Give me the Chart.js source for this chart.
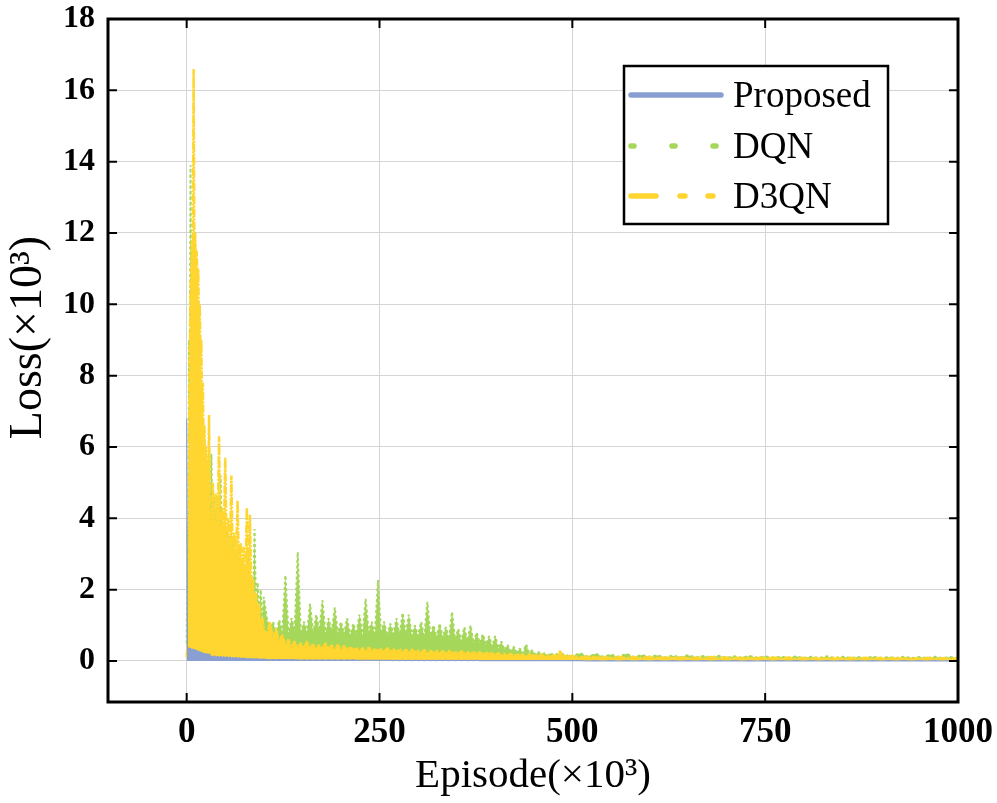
<!DOCTYPE html>
<html>
<head>
<meta charset="utf-8">
<script src="https://cdn.jsdelivr.net/npm/chart.js@4.4.0/dist/chart.umd.min.js"></script>
<style>
  body { margin: 0; background: #fff; }
  canvas { display: block; }
</style>
</head>
<body>
<canvas id="chart" width="997" height="803"></canvas>
<script>
// episode (x10^3) sample points: dense at the start, coarser later
const episodes = [
  0, 1, 2, 3, 4, 5, 6, 7, 8, 9, 10, 11, 12, 13, 14, 15, 16, 17, 18, 19,
  20, 21, 22, 23, 24, 25, 26, 27, 28, 29, 30,
  32, 34, 36, 38, 40, 42, 44, 46, 48, 50, 52, 54, 56, 58, 60, 62, 64, 66, 68, 70,
  72, 74, 76, 78, 80, 82, 84, 86, 88, 90, 92, 94, 96, 98, 100,
  104, 108, 112, 116, 120, 124, 128, 132, 136, 140, 144, 148, 152, 156, 160, 164, 168, 172, 176, 180,
  184, 188, 192, 196, 200, 204, 208, 212, 216, 220, 224, 228, 232, 236, 240, 244, 248, 252, 256, 260,
  264, 268, 272, 276, 280, 284, 288, 292, 296, 300, 304, 308, 312, 316, 320, 324, 328, 332, 336, 340,
  344, 348, 352, 356, 360, 364, 368, 372, 376, 380, 384, 388, 392, 396, 400, 404, 408, 412, 416, 420,
  424, 428, 432, 436, 440, 444, 448, 452, 456, 460, 464, 468, 472, 476, 480, 484, 488, 492, 496, 500,
  510, 520, 530, 540, 550, 560, 570, 580, 590, 600, 610, 620, 630, 640, 650, 660, 670, 680, 690, 700,
  710, 720, 730, 740, 750, 760, 770, 780, 790, 800, 810, 820, 830, 840, 850, 860, 870, 880, 890, 900,
  910, 920, 930, 940, 950, 960, 970, 980, 990, 1000
];

// loss (x10^3), alternating body level and spike tips
const proposed = [
  6.8, 0.4, 0.3, 0.38, 0.28, 0.36, 0.27, 0.34, 0.26, 0.33,
  0.25, 0.32, 0.24, 0.3, 0.22, 0.28, 0.2, 0.27, 0.2, 0.25,
  0.18, 0.24, 0.17, 0.22, 0.16, 0.22, 0.15, 0.2, 0.15, 0.2,
  0.14,
  0.14, 0.1, 0.14, 0.1, 0.13, 0.09, 0.13, 0.09, 0.12, 0.08,
  0.12, 0.08, 0.11, 0.07, 0.1, 0.07, 0.1, 0.06, 0.09, 0.06,
  0.08, 0.06, 0.08, 0.05, 0.07, 0.05, 0.07, 0.05, 0.06, 0.05,
  0.06, 0.04, 0.05, 0.04, 0.05,
  0.04, 0.03, 0.04, 0.03, 0.04, 0.03, 0.04, 0.03, 0.04, 0.03,
  0.03, 0.02, 0.03, 0.02, 0.03, 0.02, 0.03, 0.02, 0.03, 0.02,
  0.03, 0.02, 0.03, 0.02, 0.03, 0.02, 0.03, 0.02, 0.03, 0.02,
  0.02, 0.02, 0.02, 0.02, 0.02, 0.02, 0.02, 0.02, 0.02, 0.02,
  0.02, 0.01, 0.02, 0.01, 0.02, 0.01, 0.02, 0.01, 0.02, 0.01,
  0.02, 0.01, 0.02, 0.01, 0.02, 0.01, 0.02, 0.01, 0.02, 0.01,
  0.02, 0.01, 0.02, 0.01, 0.02, 0.01, 0.02, 0.01, 0.02, 0.01,
  0.01, 0.01, 0.01, 0.01, 0.01, 0.01, 0.01, 0.01, 0.01, 0.01,
  0.01, 0.01, 0.01, 0.01, 0.01, 0.01, 0.01, 0.01, 0.01, 0.01,
  0.01, 0.01, 0.01, 0.01, 0.01, 0.01, 0.01, 0.01, 0.01, 0.01,
  0.01, 0, 0.01, 0, 0.01, 0, 0.01, 0, 0.01, 0,
  0.01, 0, 0.01, 0, 0.01, 0, 0.01, 0, 0.01, 0,
  0.01, 0, 0.01, 0, 0.01, 0, 0.01, 0, 0.01, 0,
  0.01, 0, 0.01, 0, 0.01, 0, 0.01, 0, 0.01, 0,
  0.01, 0, 0.01, 0, 0.01, 0, 0.01, 0, 0.01, 0
];

const dqn = [
  0.5, 3.8, 0.6, 9.0, 7.0, 13.9, 9.0, 10.5, 9.0, 10.0,
  8.5, 9.0, 8.0, 8.5, 7.5, 8.0, 6.8, 7.2, 6.0, 6.8,
  5.2, 6.0, 4.8, 5.8, 4.5, 5.5, 4.2, 5.2, 4.0, 5.0,
  3.8,
  5.8, 3.0, 4.6, 2.8, 4.4, 2.7, 5.2, 2.6, 3.8, 2.5,
  3.6, 2.4, 3.5, 2.3, 3.4, 2.2, 3.0, 2.1, 3.1, 2.0,
  2.8, 1.9, 2.6, 1.8, 2.9, 1.7, 2.4, 1.5, 3.7, 1.3,
  2.2, 1.1, 2.0, 1.0, 1.8,
  1.2, 0.8, 1.1, 0.75, 1.15, 0.8, 2.4, 0.75, 1.2, 0.85,
  3.05, 0.75, 1.1, 0.8, 1.6, 0.75, 1.3, 0.85, 1.7, 0.75,
  1.2, 0.8, 1.5, 0.75, 1.1, 0.75, 1.2, 0.7, 1.05, 0.75,
  1.3, 0.7, 1.74, 0.8, 1.1, 0.7, 2.27, 0.75, 1.1, 0.7,
  1.05, 0.75, 1.2, 0.7, 1.35, 0.75, 1.3, 0.7, 1.0, 0.7,
  1.1, 0.65, 1.66, 0.7, 1.0, 0.65, 1.05, 0.65, 0.95, 0.6,
  1.38, 0.6, 0.9, 0.55, 0.95, 0.55, 1.0, 0.5, 0.8, 0.5,
  0.75, 0.45, 0.7, 0.4, 0.7, 0.35, 0.55, 0.3, 0.45, 0.28,
  0.4, 0.25, 0.35, 0.22, 0.47, 0.22, 0.3, 0.18, 0.25, 0.17,
  0.22, 0.16, 0.22, 0.16, 0.2, 0.15, 0.2, 0.14, 0.17, 0.13,
  0.22, 0.12, 0.2, 0.12, 0.18, 0.11, 0.2, 0.11, 0.17, 0.11,
  0.16, 0.1, 0.15, 0.1, 0.16, 0.1, 0.14, 0.1, 0.15, 0.09,
  0.13, 0.09, 0.14, 0.09, 0.13, 0.09, 0.12, 0.09, 0.13, 0.08,
  0.12, 0.08, 0.13, 0.08, 0.12, 0.08, 0.11, 0.08, 0.12, 0.08,
  0.11, 0.08, 0.12, 0.08, 0.11, 0.08, 0.12, 0.08, 0.11, 0.08
];

const d3qn = [
  0.1, 0.5, 0.4, 6.0, 8.5, 10.5, 10.8, 11.8, 11.0, 16.6,
  11.2, 12.0, 10.8, 11.5, 10.5, 11.0, 9.2, 10.0, 8.6, 9.0,
  7.0, 7.8, 5.8, 6.6, 5.2, 6.0, 4.8, 5.6, 4.6, 6.9,
  4.5,
  3.6, 5.0, 3.0, 4.7, 3.4, 6.3, 2.8, 4.3, 3.2, 5.7,
  2.7, 4.0, 3.0, 5.2, 2.5, 3.6, 2.8, 4.5, 2.4, 3.3,
  2.6, 3.2, 2.2, 4.3, 2.3, 4.1, 1.8, 2.3, 1.5, 1.9,
  1.3, 1.6, 1.0, 1.2, 0.9,
  0.7, 1.1, 0.6, 0.9, 0.5, 0.75, 0.4, 0.6, 0.38, 0.55,
  0.36, 0.5, 0.35, 0.55, 0.34, 0.48, 0.33, 0.45, 0.33, 0.5,
  0.32, 0.44, 0.31, 0.45, 0.3, 0.42, 0.3, 0.4, 0.28, 0.38,
  0.27, 0.36, 0.27, 0.38, 0.26, 0.35, 0.26, 0.34, 0.25, 0.36,
  0.25, 0.33, 0.24, 0.34, 0.24, 0.32, 0.23, 0.33, 0.23, 0.3,
  0.22, 0.31, 0.22, 0.29, 0.21, 0.3, 0.21, 0.28, 0.2, 0.29,
  0.2, 0.27, 0.19, 0.28, 0.19, 0.26, 0.18, 0.27, 0.18, 0.25,
  0.17, 0.25, 0.17, 0.24, 0.16, 0.22, 0.15, 0.21, 0.15, 0.2,
  0.14, 0.2, 0.14, 0.19, 0.13, 0.19, 0.13, 0.18, 0.12, 0.18,
  0.12, 0.17, 0.12, 0.16, 0.11, 0.28, 0.11, 0.16, 0.11, 0.15,
  0.09, 0.13, 0.09, 0.12, 0.08, 0.12, 0.08, 0.11, 0.08, 0.12,
  0.08, 0.11, 0.08, 0.11, 0.07, 0.1, 0.07, 0.11, 0.07, 0.1,
  0.07, 0.1, 0.07, 0.1, 0.07, 0.1, 0.07, 0.1, 0.06, 0.09,
  0.06, 0.09, 0.06, 0.1, 0.06, 0.09, 0.06, 0.09, 0.06, 0.09,
  0.06, 0.09, 0.06, 0.08, 0.06, 0.09, 0.06, 0.08, 0.06, 0.08
];

const xTicks = [0, 250, 500, 750, 1000];
const yTicks = [0, 2, 4, 6, 8, 10, 12, 14, 16, 18];
const seriesNames = ['Proposed', 'DQN', 'D3QN'];
const seriesColors = ['#8a9fd1', '#a5d75b', '#ffd52f'];

const serif = 'Liberation Serif';
const toPoints = vals => vals.map((v, i) => ({ x: episodes[i], y: v }));

// black box round the plot with the short inward ticks on all four sides
const framePlugin = {
  id: 'frame',
  afterDraw(chart) {
    const { ctx, chartArea: a, scales: { x, y } } = chart;
    const tl = 9;
    ctx.save();
    ctx.strokeStyle = '#000';
    ctx.lineWidth = 2;
    ctx.beginPath();
    xTicks.forEach(v => {
      const px = x.getPixelForValue(v);
      ctx.moveTo(px, a.bottom); ctx.lineTo(px, a.bottom - tl);
      ctx.moveTo(px, a.top); ctx.lineTo(px, a.top + tl);
    });
    yTicks.forEach(v => {
      const py = y.getPixelForValue(v);
      ctx.moveTo(a.left, py); ctx.lineTo(a.left + tl, py);
      ctx.moveTo(a.right, py); ctx.lineTo(a.right - tl, py);
    });
    ctx.stroke();
    ctx.lineWidth = 3;
    ctx.strokeRect(a.left, a.top, a.right - a.left, a.bottom - a.top);
    ctx.restore();
  }
};

// legend in a framed white box, top right inside the plot
const legendDash = [[], [3, 38], [25, 24, 5, 23, 5, 200]];
const legendPlugin = {
  id: 'boxLegend',
  afterDraw(chart) {
    const ctx = chart.ctx;
    ctx.save();
    ctx.fillStyle = '#fff';
    ctx.fillRect(624, 66, 264, 158);
    ctx.strokeStyle = '#000';
    ctx.lineWidth = 2.5;
    ctx.strokeRect(624, 66, 264, 158);
    const lineY = [95, 146, 196];
    const textY = [107, 158, 208];
    ctx.font = '37px "' + serif + '"';
    ctx.textBaseline = 'alphabetic';
    seriesNames.forEach((name, i) => {
      ctx.strokeStyle = seriesColors[i];
      ctx.lineWidth = 5.5;
      ctx.lineCap = 'round';
      ctx.setLineDash(legendDash[i]);
      ctx.beginPath();
      ctx.moveTo(631, lineY[i]);
      ctx.lineTo(i === 0 ? 721 : 718, lineY[i]);
      ctx.stroke();
      ctx.setLineDash([]);
      ctx.fillStyle = '#000';
      ctx.fillText(name, 733, textY[i]);
    });
    ctx.restore();
  }
};

new Chart(document.getElementById('chart'), {
  type: 'line',
  data: {
    datasets: [
      { label: seriesNames[0], data: toPoints(proposed), borderColor: seriesColors[0], backgroundColor: seriesColors[0],
        borderWidth: 1.2, fill: 'origin', order: 0 },
      { label: seriesNames[1], data: toPoints(dqn), borderColor: seriesColors[1], backgroundColor: seriesColors[1],
        borderWidth: 2, borderDash: [3, 2.5], fill: 'origin', order: 2 },
      { label: seriesNames[2], data: toPoints(d3qn), borderColor: seriesColors[2], backgroundColor: seriesColors[2],
        borderWidth: 2.5, borderDash: [8, 1.5, 2, 1.5], fill: 'origin', order: 1 }
    ]
  },
  options: {
    responsive: false,
    animation: false,
    parsing: false,
    layout: { padding: { left: 0, top: 19, right: 39, bottom: 0 } },
    elements: {
      point: { radius: 0 },
      line: { tension: 0, borderJoinStyle: 'bevel' }
    },
    plugins: { legend: { display: false }, tooltip: { enabled: false } },
    scales: {
      x: {
        type: 'linear',
        min: -102,
        max: 1000,
        afterBuildTicks: s => { s.ticks = xTicks.map(v => ({ value: v })); },
        afterFit: s => { s.height = 101; s.paddingLeft = 0; s.paddingRight = 0; },
        grid: { color: '#d4d4d4', lineWidth: 1, drawTicks: false },
        border: { display: false },
        ticks: {
          color: '#000', padding: 10, maxRotation: 0, autoSkip: false,
          font: { family: serif, size: 35, weight: 'bold' },
          callback: v => String(v)
        },
        title: {
          display: true, text: 'Episode(×10³)', color: '#000',
          font: { family: serif, size: 41 }, padding: { top: 0, bottom: 2 }
        }
      },
      y: {
        min: -1.15,
        max: 18,
        afterBuildTicks: s => { s.ticks = yTicks.map(v => ({ value: v })); },
        afterFit: s => { s.width = 108; s.paddingTop = 0; s.paddingBottom = 0; },
        grid: { color: '#d4d4d4', lineWidth: 1, drawTicks: false },
        border: { display: false },
        ticks: {
          color: '#000', padding: 13, autoSkip: false,
          font: { family: serif, size: 32, weight: 'bold' },
          callback: v => String(v)
        },
        title: {
          // the two leading en spaces lift the label a little above the axis middle, as in the figure
          display: true, text: '\u2002\u2002Loss(×10³)', color: '#000',
          font: { family: serif, size: 46 }, padding: { top: 1, bottom: 0 }
        }
      }
    }
  },
  plugins: [framePlugin, legendPlugin]
});
</script>
</body>
</html>
